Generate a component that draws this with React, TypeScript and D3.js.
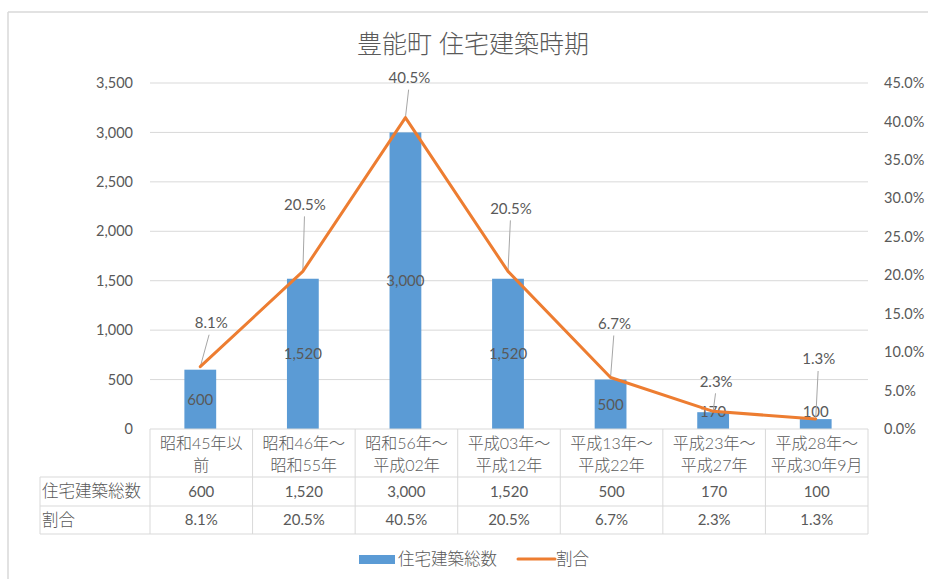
import React from "react";
import * as d3 from "d3";

const title = "豊能町 住宅建築時期";
const categories: string[][] = [
  ["昭和45年以", "前"],
  ["昭和46年～", "昭和55年"],
  ["昭和56年～", "平成02年"],
  ["平成03年～", "平成12年"],
  ["平成13年～", "平成22年"],
  ["平成23年～", "平成27年"],
  ["平成28年～", "平成30年9月"],
];
const countName = "住宅建築総数";
const ratioName = "割合";
const counts = [600, 1520, 3000, 1520, 500, 170, 100];
const ratios = [8.1, 20.5, 40.5, 20.5, 6.7, 2.3, 1.3];
const leftTicks = [0, 500, 1000, 1500, 2000, 2500, 3000, 3500];
const rightTicks = [0, 5, 10, 15, 20, 25, 30, 35, 40, 45];

// label offsets (layout) for line data labels
const lineLabelOffsets: [number, number][] = [
  [11, -44], [2, -67], [4, -40], [3, -63], [4, -54], [3, -30], [3, -60],
];

const W = 928, H = 579;
const plotL = 150, plotR = 868, plotT = 83, plotB = 429;
const BLUE = "#5b9bd5", ORANGE = "#ed7d31", TXT = "#595959", GRID = "#d9d9d9";
const FONT = "Lato, 'Noto Sans CJK JP', sans-serif";

export default function App() {
  const x = d3.scaleBand<number>().domain(d3.range(categories.length)).range([plotL, plotR]).paddingInner(0).paddingOuter(0);
  const yL = d3.scaleLinear().domain([0, 3500]).range([plotB, plotT]);
  const yR = d3.scaleLinear().domain([0, 45]).range([plotB, plotT]);
  const bw = x.bandwidth() * 0.31;
  const cx = (i: number) => (x(i) as number) + x.bandwidth() / 2 - 1;
  const line = d3.line<number>().x((_, i) => cx(i)).y((d) => yR(d));
  const fmt = d3.format(",");
  const pct = (v: number) => v.toFixed(1) + "%";

  const row1Top = plotB, row2Top = 477, row3Top = 506, tableBottom = 534, tableLeft = 40;

  return (
    <svg width={W} height={H} style={{ position: "absolute", left: 0, top: 0, fontFamily: FONT }}>
      <rect x={0} y={0} width={W} height={H} fill="#fff" />
      <line x1={8} y1={12} x2={W} y2={12} stroke={GRID} strokeWidth={1.5} />
      <line x1={8} y1={12} x2={8} y2={H} stroke={GRID} strokeWidth={1.5} />
      <text x={473} y={53} textAnchor="middle" fontSize={25} fill={TXT} fontWeight={300}>{title}</text>

      {leftTicks.map((t) => (
        <g key={"g" + t}>
          {t > 0 && <line x1={plotL} x2={plotR} y1={yL(t)} y2={yL(t)} stroke={GRID} />}
          <text x={133} y={yL(t)} dy="0.35em" textAnchor="end" fontSize={14.5} fill={TXT}>{fmt(t)}</text>
        </g>
      ))}
      {rightTicks.map((t) => (
        <text key={"r" + t} x={884} y={yR(t)} dy="0.35em" textAnchor="start" fontSize={14.5} fill={TXT}>{pct(t)}</text>
      ))}

      {counts.map((v, i) => (
        <rect key={"b" + i} x={cx(i) - bw / 2} y={yL(v)} width={bw} height={plotB - yL(v)} fill={BLUE} />
      ))}
      {counts.map((v, i) => {
        const c = (yL(v) + plotB) / 2;
        const ly = Math.min(c, plotB - 17);
        return (
          <text key={"bl" + i} x={cx(i)} y={ly} dy="0.35em" textAnchor="middle" fontSize={15} fill={TXT}>{fmt(v)}</text>
        );
      })}

      {ratios.map((v, i) => {
        const [dx, dy] = lineLabelOffsets[i];
        return (
          <line key={"ll" + i} x1={cx(i)} y1={yR(v)} x2={cx(i) + dx * 0.8} y2={yR(v) + dy + 12} stroke="#a6a6a6" strokeWidth={1} />
        );
      })}
      <path d={line(ratios) || ""} fill="none" stroke={ORANGE} strokeWidth={3} strokeLinejoin="round" strokeLinecap="round" />
      {ratios.map((v, i) => {
        const [dx, dy] = lineLabelOffsets[i];
        return (
          <text key={"rl" + i} x={cx(i) + dx} y={yR(v) + dy} dy="0.35em" textAnchor="middle" fontSize={15} fill={TXT}>{pct(v)}</text>
        );
      })}

      {/* data table */}
      <g stroke={GRID} strokeWidth={1}>
        <line x1={plotL} x2={plotR} y1={row1Top} y2={row1Top} />
        <line x1={tableLeft} x2={plotR} y1={row2Top} y2={row2Top} />
        <line x1={tableLeft} x2={plotR} y1={row3Top} y2={row3Top} />
        <line x1={tableLeft} x2={plotR} y1={tableBottom} y2={tableBottom} />
        <line x1={tableLeft} x2={tableLeft} y1={row2Top} y2={tableBottom} />
        {d3.range(categories.length + 1).map((i) => {
          const xx = i < categories.length ? (x(i) as number) : plotR;
          return <line key={"v" + i} x1={xx} x2={xx} y1={row1Top} y2={tableBottom} />;
        })}
      </g>
      {categories.map((lines, i) => (
        <text key={"c" + i} x={cx(i) + 1} textAnchor="middle" fontSize={16} fill={TXT} fontWeight={300}>
          {lines.map((s, j) => (
            <tspan key={j} x={cx(i) + 1} y={443 + j * 22} dy="0.35em">{s}</tspan>
          ))}
        </text>
      ))}
      <text x={42} y={(row2Top + row3Top) / 2} dy="0.35em" fontSize={16.5} fill={TXT} fontWeight={300}>{countName}</text>
      <text x={42} y={(row3Top + tableBottom) / 2} dy="0.35em" fontSize={16.5} fill={TXT} fontWeight={300}>{ratioName}</text>
      {counts.map((v, i) => (
        <text key={"tc" + i} x={cx(i) + 1} y={(row2Top + row3Top) / 2} dy="0.35em" textAnchor="middle" fontSize={15} fill={TXT}>{fmt(v)}</text>
      ))}
      {ratios.map((v, i) => (
        <text key={"tr" + i} x={cx(i) + 1} y={(row3Top + tableBottom) / 2} dy="0.35em" textAnchor="middle" fontSize={15} fill={TXT}>{pct(v)}</text>
      ))}

      {/* legend */}
      <rect x={359} y={555} width={36} height={9} fill={BLUE} />
      <text x={398} y={559} dy="0.35em" fontSize={16.5} fill={TXT} fontWeight={300}>{countName}</text>
      <line x1={518} x2={555} y1={559} y2={559} stroke={ORANGE} strokeWidth={3} strokeLinecap="round" />
      <text x={556} y={559} dy="0.35em" fontSize={16.5} fill={TXT} fontWeight={300}>{ratioName}</text>
    </svg>
  );
}
